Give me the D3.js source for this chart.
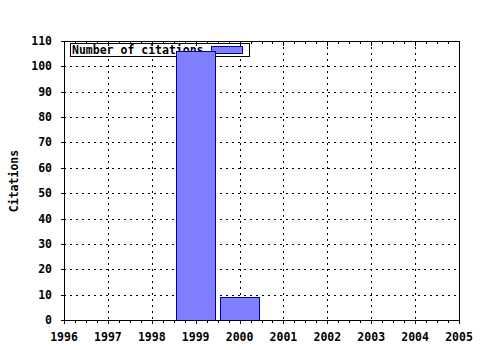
<!DOCTYPE html>
<meta charset="utf-8">
<style>
body{ margin:0; background:white; }
text{ font-family: "DejaVu Sans Mono", "Liberation Mono", monospace; font-weight: bold; font-size: 11.5px; fill: black; }
</style>
<body>
<script src="https://cdn.jsdelivr.net/npm/d3@7"></script>
<script>

var years = [1999, 2000],
    citations = [106, 9],
    xTicks = [1996, 1997, 1998, 1999, 2000, 2001, 2002, 2003, 2004, 2005],
    yTicks = [0, 10, 20, 30, 40, 50, 60, 70, 80, 90, 100, 110]

var width = 480, height = 350,
    pLeft = 64, pRight = 459, pTop = 41, pBottom = 320

var svg = d3.select('body').append('svg')
    .attr('width', width).attr('height', height)

var x = d3.scaleLinear().domain([1996, 2005]).range([pLeft, pRight])
var y = d3.scaleLinear().domain([0, 110]).range([pBottom, pTop])

function px(v){ return Math.round(v) + .5 }

// grid
svg.append('g').selectAll('line').data(xTicks.slice(1, -1)).enter().append('line')
    .attr('x1', function(d){ return px(x(d)) })
    .attr('x2', function(d){ return px(x(d)) })
    .attr('y1', pTop).attr('y2', pBottom)
    .style('stroke', 'black').style('stroke-dasharray', '2,4')
svg.append('g').selectAll('line').data(yTicks.slice(1, -1)).enter().append('line')
    .attr('y1', function(d){ return px(y(d)) })
    .attr('y2', function(d){ return px(y(d)) })
    .attr('x1', pLeft).attr('x2', pRight)
    .style('stroke', 'black').style('stroke-dasharray', '2,4')

// legend box (bars drawn over it)
var leg = svg.append('g')
leg.append('rect').attr('x', 70.5).attr('y', 43.5).attr('width', 179).attr('height', 13)
    .style('fill', 'white').style('stroke', 'black')
leg.append('text').attr('x', 72).attr('y', 54).text('Number of citations')
leg.append('rect').attr('x', 211.5).attr('y', 46.5).attr('width', 31).attr('height', 7)
    .style('fill', '#8080ff').style('stroke', '#0000a0')

// bars
svg.append('g').selectAll('rect').data(years).enter().append('rect')
    .attr('x', function(d){ return px(x(d - 0.45)) })
    .attr('width', function(d){ return Math.round(x(d + 0.45)) - Math.round(x(d - 0.45)) })
    .attr('y', function(d, i){ return px(y(citations[i])) })
    .attr('height', function(d, i){ return pBottom - Math.round(y(citations[i])) })
    .style('fill', '#8080ff').style('stroke', '#0000a0')

// frame
svg.append('rect').attr('x', pLeft + .5).attr('y', pTop + .5)
    .attr('width', pRight - pLeft).attr('height', pBottom - pTop)
    .style('fill', 'none').style('stroke', 'black')

// x minor + major ticks
var minor = d3.range(0, 37).map(function(i){ return 1996 + i / 4 })
svg.append('g').selectAll('line').data(minor).enter().append('line')
    .attr('x1', function(d){ return px(x(d)) })
    .attr('x2', function(d){ return px(x(d)) })
    .attr('y1', pBottom).attr('y2', function(d){ return pBottom + (d % 1 == 0 ? 4 : 3) })
    .style('stroke', 'black')
svg.append('g').selectAll('line').data(minor).enter().append('line')
    .attr('x1', function(d){ return px(x(d)) })
    .attr('x2', function(d){ return px(x(d)) })
    .attr('y1', pTop).attr('y2', function(d){ return pTop + (d % 1 == 0 ? 5 : 3) })
    .style('stroke', 'black')

svg.append('g').selectAll('text').data(xTicks).enter().append('text')
    .attr('x', function(d){ return x(d) }).attr('y', 341)
    .attr('text-anchor', 'middle').text(function(d){ return d })

// y ticks
svg.append('g').selectAll('line').data(yTicks).enter().append('line')
    .attr('y1', function(d){ return px(y(d)) })
    .attr('y2', function(d){ return px(y(d)) })
    .attr('x1', pLeft - 3).attr('x2', pLeft)
    .style('stroke', 'black')
svg.append('g').selectAll('text').data(yTicks).enter().append('text')
    .attr('x', 52).attr('y', function(d){ return y(d) + 4 })
    .attr('text-anchor', 'end').text(function(d){ return d })

svg.append('text').attr('transform', 'translate(18,181) rotate(-90)')
    .attr('text-anchor', 'middle').text('Citations')

</script>
